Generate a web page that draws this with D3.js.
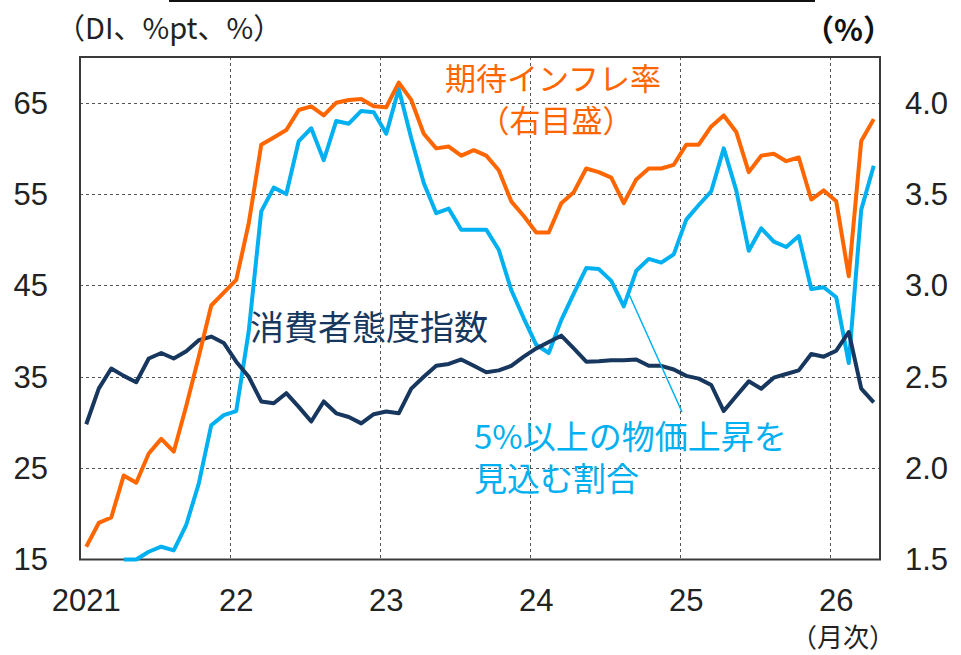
<!DOCTYPE html>
<html>
<head>
<meta charset="utf-8">
<script src="https://cdn.jsdelivr.net/npm/d3@7"></script>
<style>
  body { margin: 0; background: #fff; }
  svg text { font-family: "Liberation Sans", "Noto Sans CJK JP", sans-serif; }
  .jp { font-family: "Noto Sans CJK JP", sans-serif; }
</style>
</head>
<body>
<svg id="chart" width="961" height="655"></svg>
<script>
// monthly, Jan 2021 .. Apr 2026
const years = [2021, 2022, 2023, 2024, 2025, 2026];
const yearLabels = ["2021", "22", "23", "24", "25", "26"];
const months = d3.range(64);

// 期待インフレ率 (right axis, %)
const inflationExp = [
  1.57, 1.70, 1.73, 1.96, 1.92, 2.08, 2.16, 2.09, 2.34, 2.61, 2.89, 2.96,
  3.03, 3.34, 3.77, 3.81, 3.85, 3.96, 3.98, 3.93, 4.00, 4.015, 4.02, 3.98,
  3.975, 4.11, 4.015, 3.83, 3.75, 3.76, 3.71, 3.74, 3.71, 3.63, 3.46, 3.38,
  3.29, 3.29, 3.45, 3.51, 3.64, 3.62, 3.59, 3.45, 3.58, 3.64, 3.64, 3.66,
  3.77, 3.77, 3.87, 3.93, 3.84, 3.62, 3.71, 3.72, 3.68, 3.70, 3.47, 3.52,
  3.46, 3.05, 3.79, 3.91
];

// 5%以上の物価上昇を見込む割合 (left axis, %pt)
const share5pct = [
  null, null, null, 15.0, 15.0, 15.85, 16.4, 16.0, 18.8, 23.3, 29.7, 30.8,
  31.25, 40.0, 53.1, 55.7, 55.0, 60.8, 62.2, 58.7, 63.0, 62.7, 64.1, 63.95,
  61.6, 66.5, 61.1, 56.2, 52.9, 53.4, 51.1, 51.1, 51.1, 48.9, 44.5, 41.4,
  38.5, 37.6, 41.2, 44.1, 46.9, 46.8, 45.5, 42.7, 46.6, 47.9, 47.5, 48.4,
  52.2, 53.8, 55.3, 60.0, 55.4, 48.8, 51.25, 49.8, 49.2, 50.4, 44.6, 44.8,
  43.7, 36.5, 53.3, 58.1
];

// 消費者態度指数 (left axis, DI)
const confidence = [
  29.8, 33.7, 35.9, 35.1, 34.4, 37.0, 37.6, 37.0, 37.8, 39.0, 39.4, 38.7,
  36.65, 35.0, 32.3, 32.1, 33.2, 31.7, 30.1, 32.3, 31.0, 30.6, 29.9, 30.9,
  31.2, 31.0, 33.7, 35.0, 36.2, 36.4, 36.9, 36.2, 35.5, 35.7, 36.2, 37.2,
  38.1, 38.8, 39.5, 38.1, 36.65, 36.7, 36.8, 36.8, 36.9, 36.2, 36.2, 35.8,
  35.1, 34.8, 34.1, 31.25, 32.9, 34.5, 33.7, 34.9, 35.3, 35.7, 37.5, 37.2,
  37.85, 39.9, 33.7, 32.2
];

const leftTicks = [15, 25, 35, 45, 55, 65];
const rightTicks = [1.5, 2.0, 2.5, 3.0, 3.5, 4.0];

const svg = d3.select("#chart");
const plot = { left: 80, right: 880, top: 57, bottom: 559.5 };

const x = d3.scaleBand().domain(months).range([plot.left, plot.right]);
const cx = i => x(i) + x.bandwidth() / 2;
const yL = d3.scaleLinear().domain([15, 70]).range([plot.bottom, plot.top]);
const yR = d3.scaleLinear().domain([1.5, 4.25]).range([plot.bottom, plot.top]);

// thin rule at very top
svg.append("line")
  .attr("x1", 169).attr("x2", 815).attr("y1", 1).attr("y2", 1)
  .attr("stroke", "#111").attr("stroke-width", 2);

// grid
const grid = svg.append("g").attr("stroke", "#555").attr("stroke-width", 1)
  .attr("stroke-dasharray", "3,3");
grid.selectAll("line.h").data(leftTicks.slice(1)).join("line")
  .attr("class", "h")
  .attr("x1", plot.left).attr("x2", plot.right)
  .attr("y1", d => Math.round(yL(d)) + 0.5).attr("y2", d => Math.round(yL(d)) + 0.5);
grid.selectAll("line.v").data(years.slice(1)).join("line")
  .attr("class", "v")
  .attr("x1", d => Math.round(x((d - 2021) * 12)) + 0.5)
  .attr("x2", d => Math.round(x((d - 2021) * 12)) + 0.5)
  .attr("y1", plot.top).attr("y2", plot.bottom);

// frame
svg.append("rect")
  .attr("x", plot.left).attr("y", plot.top)
  .attr("width", plot.right - plot.left).attr("height", plot.bottom - plot.top)
  .attr("fill", "none").attr("stroke", "#3a3a3a").attr("stroke-width", 2);

// tick labels
svg.append("g").selectAll("text").data(leftTicks).join("text")
  .attr("x", 48).attr("y", d => yL(d)).attr("dy", "0.35em")
  .attr("text-anchor", "end").attr("font-size", 31).attr("fill", "#222")
  .text(d => d);
svg.append("g").selectAll("text").data(rightTicks).join("text")
  .attr("x", 905).attr("y", d => yR(d)).attr("dy", "0.35em")
  .attr("text-anchor", "start").attr("font-size", 31).attr("fill", "#222")
  .text(d3.format(".1f"));
svg.append("g").selectAll("text").data(years).join("text")
  .attr("x", (d, i) => cx(i * 12)).attr("y", 611)
  .attr("text-anchor", "middle").attr("font-size", 31).attr("fill", "#222")
  .text((d, i) => yearLabels[i]);

// unit labels
svg.append("text").attr("class", "jp").attr("x", 56).attr("y", 39)
  .attr("font-size", 29).attr("fill", "#222").text("（DI、%pt、%）");
svg.append("text").attr("class", "jp").attr("x", 804).attr("y", 41)
  .attr("font-size", 30).attr("font-weight", "bold").attr("fill", "#111").text("（%）");
svg.append("text").attr("class", "jp").attr("x", 791).attr("y", 647)
  .attr("font-size", 26).attr("fill", "#222").text("（月次）");

// lines
const lineL = d3.line().defined(d => d != null).x((d, i) => cx(i)).y(d => yL(d));
const lineR = d3.line().x((d, i) => cx(i)).y(d => yR(d));

svg.append("path").datum(share5pct)
  .attr("fill", "none").attr("stroke", "#00B0F0").attr("stroke-width", 4)
  .attr("stroke-linejoin", "round").attr("d", lineL);
svg.append("path").datum(confidence)
  .attr("fill", "none").attr("stroke", "#17375E").attr("stroke-width", 4)
  .attr("stroke-linejoin", "round").attr("d", lineL);
svg.append("path").datum(inflationExp)
  .attr("fill", "none").attr("stroke", "#FF6600").attr("stroke-width", 4)
  .attr("stroke-linejoin", "round").attr("d", lineR);

// series labels
const orangeLbl = svg.append("text").attr("class", "jp").attr("fill", "#FF6600")
  .attr("font-size", 31).attr("text-anchor", "middle");
orangeLbl.append("tspan").attr("x", 553).attr("y", 90).text("期待インフレ率");
orangeLbl.append("tspan").attr("x", 556).attr("y", 132).text("（右目盛）");

svg.append("text").attr("class", "jp").attr("fill", "#17375E")
  .attr("font-size", 34).attr("x", 250).attr("y", 340).text("消費者態度指数");

svg.append("text").attr("class", "jp").attr("fill", "#00B0F0")
  .attr("font-size", 33).attr("x", 474).attr("y", 449).text("5%以上の物価上昇を");
svg.append("text").attr("class", "jp").attr("fill", "#00B0F0")
  .attr("font-size", 33).attr("x", 474).attr("y", 491).text("見込む割合");

// leader line
svg.append("line")
  .attr("x1", 628).attr("y1", 292).attr("x2", 682).attr("y2", 412)
  .attr("stroke", "#00B0F0").attr("stroke-width", 1.5);
</script>
</body>
</html>
